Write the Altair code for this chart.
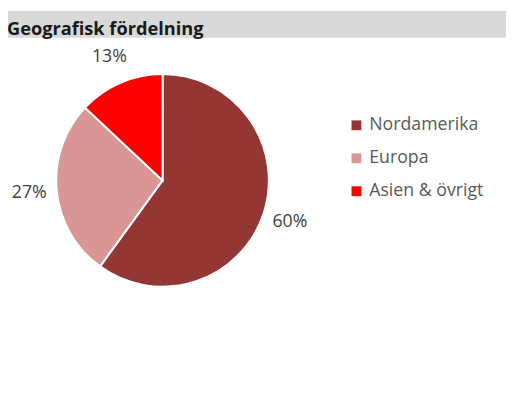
import altair as alt
import pandas as pd

categories = ["Nordamerika", "Europa", "Asien & övrigt"]
values = [60, 27, 13]
labels = ["60%", "27%", "13%"]
colors = ["#943634", "#D99694", "#FF0000"]
title_text = "Geografisk fördelning"

df = pd.DataFrame({"cat": categories, "value": values, "label": labels, "idx": list(range(len(categories)))})
one = pd.DataFrame({"t": [title_text]})

CX, CY = 157, 172

bar = alt.Chart(one).mark_rect(color="#D9D9D9").encode(
    x=alt.value(0), x2=alt.value(506), y=alt.value(0), y2=alt.value(27)
)
title = alt.Chart(one).mark_text(
    align="left", baseline="alphabetic", font="Open Sans", fontWeight="bold", fontSize=18.5, color="#1a1a1a"
).encode(text="t:N", x=alt.value(-1), y=alt.value(24))

base = alt.Chart(df).encode(
    theta=alt.Theta("value:Q", stack=True),
    order=alt.Order("idx:Q"),
)
arc = base.mark_arc(outerRadius=108, stroke="white", strokeWidth=2).encode(
    color=alt.Color(
        "cat:N",
        scale=alt.Scale(domain=categories, range=colors),
        legend=alt.Legend(
            title=None,
            orient="none",
            legendX=345,
            legendY=107,
            symbolType="square",
            symbolSize=100,
            symbolStrokeWidth=0,
            labelFontSize=18,
            labelFont="Open Sans",
            labelColor="#595959",
            rowPadding=15.5,
            labelOffset=4,
        ),
    ),
    x=alt.value(CX),
    y=alt.value(CY),
)
text = base.mark_text(radius=136, fontSize=18, font="Open Sans", color="#404040").encode(
    text="label:N", x=alt.value(CX), y=alt.value(CY)
)

chart = (
    alt.layer(bar, title, arc, text)
    .properties(width=510, height=397, autosize=alt.AutoSizeParams(type="none"), padding=0)
    .configure_view(strokeWidth=0)
)
chart.save("out.html", embed_options={"renderer": "svg", "actions": False})
